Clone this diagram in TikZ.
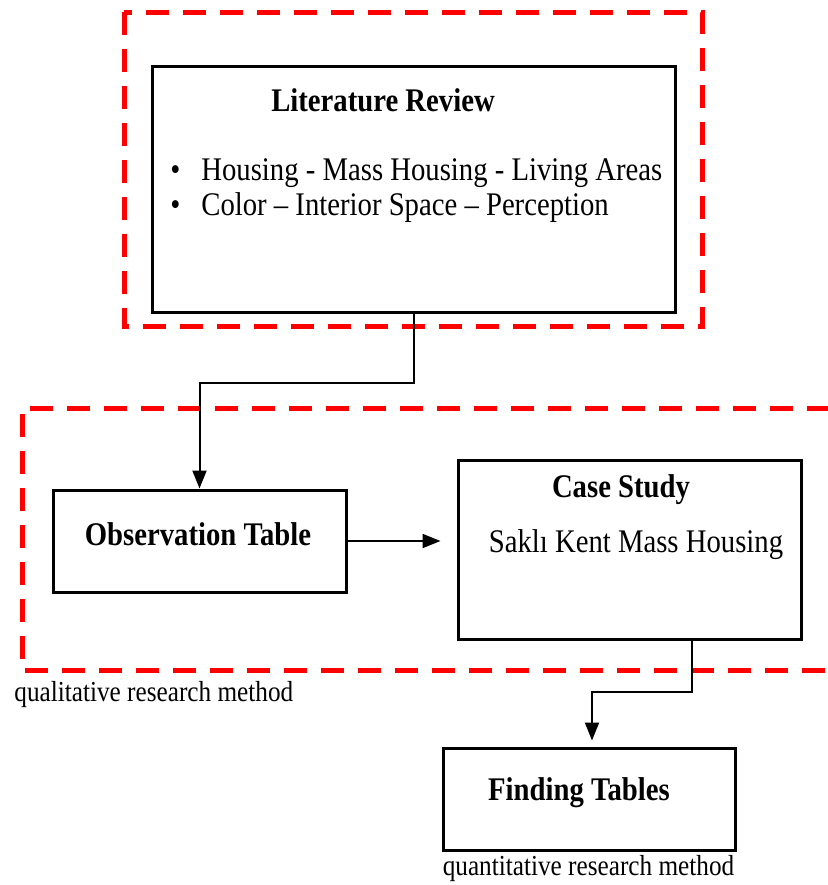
\documentclass[tikz,border=0pt]{standalone}
\usepackage{fontspec}
\setmainfont{Liberation Serif}[FakeStretch=0.87]
\usetikzlibrary{positioning}
\usetikzlibrary{arrows.meta}
\tikzset{
    mybox/.style = {rectangle, line width=1.5pt, draw=black, inner sep=0pt},
    mytitle/.style = {align=center, font=\fontsize{16.5}{19}\selectfont\bfseries, text=black, inner sep=0pt},
    mytext/.style = {align=left, font=\fontsize{16.5}{17.5}\selectfont, text=black, inner sep=0pt},
    mynote/.style = {font=\fontsize{14.5}{17}\selectfont, text=black, inner sep=0pt},
    edgea/.style = {-{Triangle[length=9pt,width=7pt]}, line width=1pt, black},
    framer/.style = {line width=2.5pt, red, dash pattern=on 11.5pt off 7pt}
}

\begin{document}
\begin{tikzpicture}[x=0.5pt,y=-0.5pt]
\useasboundingbox (0,0) rectangle (827,885);
% frames
\draw[framer] (124,12) rectangle (702,326);
\draw[framer] (830,408) -- (22,408) -- (22,670) -- (830,670);
%
\node[mybox, minimum width=261.5pt, minimum height=123pt] at (413.5,189) (lit) {};
\node[mybox, minimum width=146.5pt, minimum height=51pt] at (199.5,541) (obs) {};
\node[mybox, minimum width=171.5pt, minimum height=89.5pt] at (629.5,549.5) (case) {};
\node[mybox, minimum width=146pt, minimum height=51pt] at (589,799) (find) {};
%
\node[mytitle] at (383,100) (littitle) {Literature Review};
\node[mytext, anchor=west] at (170,190.5) (littext)
    {\makebox[15.5pt][l]{\textbullet}Housing - Mass Housing - Living Areas\\
     \makebox[15.5pt][l]{\textbullet}Color – Interior Space – Perception};
\node[mytitle] at (198,534) (obstitle) {Observation Table};
\node[mytitle] at (621,490) (casetitle) {Case Study};
\node[mytext] at (636,545) (casetext) {Saklı Kent Mass Housing};
\node[mytitle] at (579,793) (findtitle) {Finding Tables};
\node[mynote, anchor=west] at (14,695) (qual) {qualitative research method};
\node[mynote] at (588.5,869) (quant) {quantitative research method};
%
\draw[edgea] (lit.south) -- ++(0,69) -| (obs.north);
\draw[edgea, shorten >=8pt] (obs.east) -- (obs.east -| case.west);
\draw[edgea, shorten >=3pt] ([xshift=31pt]case.south) -- ++(0,51) -| ([xshift=1.5pt]find.north);
\end{tikzpicture}
\end{document}
